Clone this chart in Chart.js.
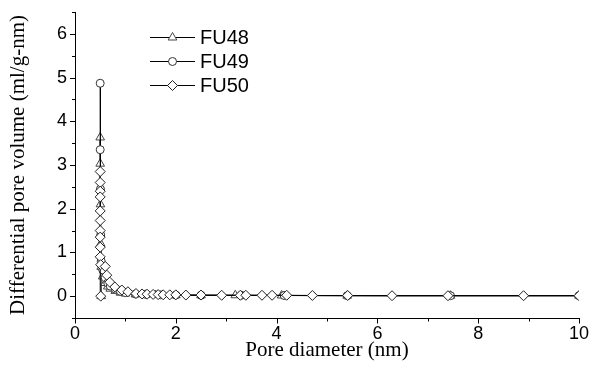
<!DOCTYPE html>
<html>
<head>
<meta charset="utf-8">
<script src="https://cdn.jsdelivr.net/npm/chart.js@4"></script>
<style>
  html, body { margin: 0; padding: 0; background: #fff; }
  #wrap { width: 598px; height: 377px; position: relative; }
</style>
</head>
<body>
<div id="wrap"><canvas id="c" width="598" height="377"></canvas></div>
<script>
// ---- data ----
const seriesNames = ["FU48", "FU49", "FU50"];

const fu48X = [0.52, 0.50, 0.50, 0.505, 0.51, 0.52, 0.55, 0.60, 0.65, 0.70, 0.80, 0.90, 1.00, 1.20, 1.40, 1.60, 2.00, 2.50, 3.18, 4.10, 5.40, 7.45, 10.0];
const fu48Y = [0.00, 3.63, 3.03, 2.10, 1.20, 0.67, 0.45, 0.30, 0.22, 0.17, 0.12, 0.08, 0.06, 0.04, 0.03, 0.025, 0.02, 0.02, 0.02, 0.015, 0.01, 0.01, 0.01];

const fu49X = [0.50, 0.50, 0.505, 0.51, 0.52, 0.55, 0.60, 0.65, 0.70, 0.80, 0.90, 1.00, 1.20, 1.40, 1.70, 2.00, 2.50, 3.30, 4.15, 5.40, 7.45, 10.0];
const fu49Y = [4.87, 3.35, 2.45, 1.40, 0.80, 0.60, 0.42, 0.30, 0.23, 0.16, 0.11, 0.08, 0.05, 0.04, 0.03, 0.025, 0.02, 0.02, 0.015, 0.01, 0.01, 0.01];

const fu50X = [0.51, 0.50, 0.50, 0.50, 0.50, 0.50, 0.50, 0.50, 0.50, 0.50, 0.50, 0.51, 0.60, 0.63, 0.69, 0.79, 0.93, 1.05, 1.21, 1.33, 1.43, 1.55, 1.65, 1.75, 1.88, 2.00, 2.20, 2.50, 2.91, 3.28, 3.39, 3.71, 3.91, 4.20, 4.71, 5.41, 6.29, 7.40, 8.90, 10.0];
const fu50Y = [0.00, 2.85, 2.60, 2.40, 2.27, 1.95, 1.73, 1.50, 1.35, 1.12, 0.90, 0.72, 0.68, 0.48, 0.32, 0.21, 0.14, 0.10, 0.06, 0.05, 0.045, 0.04, 0.035, 0.03, 0.03, 0.03, 0.025, 0.025, 0.02, 0.02, 0.02, 0.02, 0.02, 0.02, 0.015, 0.015, 0.01, 0.01, 0.01, 0.01];

const xTickLabels = ["0", "2", "4", "6", "8", "10"];
const yTickLabels = ["0", "1", "2", "3", "4", "5", "6"];

const toPts = (xs, ys) => xs.map((x, i) => ({ x: x, y: ys[i] }));

// ---- custom axis ticks (major/minor, outward) and legend ----
const decor = {
  id: 'decor',
  afterDraw(chart) {
    const ctx = chart.ctx;
    const xs = chart.scales.x, ys = chart.scales.y;
    const ca = chart.chartArea;
    ctx.save();
    ctx.strokeStyle = '#000';
    ctx.lineWidth = 1;
    // axis lines
    ctx.beginPath();
    ctx.moveTo(Math.round(ca.left) + 0.5, ca.top);
    ctx.lineTo(Math.round(ca.left) + 0.5, Math.round(ca.bottom) + 0.5);
    ctx.lineTo(ca.right, Math.round(ca.bottom) + 0.5);
    ctx.stroke();
    // x ticks
    for (let v = 0; v <= 10; v += 1) {
      const px = Math.round(xs.getPixelForValue(v)) + 0.5;
      const len = (v % 2 === 0) ? 5 : 3;
      ctx.beginPath();
      ctx.moveTo(px, Math.round(ca.bottom));
      ctx.lineTo(px, Math.round(ca.bottom) + len + 0.5);
      ctx.stroke();
    }
    // y ticks
    for (let v = -0.5; v <= 6.5001; v += 0.5) {
      const py = Math.round(ys.getPixelForValue(v)) + 0.5;
      const major = Math.abs(v - Math.round(v)) < 1e-6;
      const len = major ? 5 : 3;
      ctx.beginPath();
      ctx.moveTo(Math.round(ca.left) + 0.5, py);
      ctx.lineTo(Math.round(ca.left) - len, py);
      ctx.stroke();
    }
    // legend
    const metas = chart.data.datasets;
    const lx0 = 150, lx1 = 195, tx = 200;
    const rows = [37, 61, 85];
    ctx.font = '20px "Liberation Sans", Arial, sans-serif';
    ctx.textBaseline = 'middle';
    ctx.textAlign = 'left';
    metas.forEach((ds, i) => {
      const y = rows[i] + 0.5;
      ctx.strokeStyle = '#000';
      ctx.lineWidth = 1;
      ctx.beginPath();
      ctx.moveTo(lx0, y);
      ctx.lineTo(lx1, y);
      ctx.stroke();
      ctx.fillStyle = '#fff';
      ctx.strokeStyle = ds.pointBorderColor;
      Chart.helpers.drawPoint(ctx, {
        pointStyle: ds.pointStyle, radius: ds.pointRadius, borderWidth: 1, rotation: 0
      }, (lx0 + lx1) / 2, y);
      ctx.fillStyle = '#000';
      ctx.fillText(ds.label, tx, rows[i] + 1);
    });
    ctx.restore();
  }
};

const common = {
  showLine: true,
  borderColor: '#000',
  borderWidth: 1,
  pointBackgroundColor: '#fff',
  pointBorderWidth: 1,
  tension: 0
};

new Chart(document.getElementById('c'), {
  type: 'scatter',
  data: {
    datasets: [
      Object.assign({}, common, { label: seriesNames[0], data: toPts(fu48X, fu48Y), pointStyle: 'triangle', pointRadius: 5, pointBorderColor: '#444', order: 2 }),
      Object.assign({}, common, { label: seriesNames[1], data: toPts(fu49X, fu49Y), pointStyle: 'circle', pointRadius: 4, pointBorderColor: '#333', order: 1 }),
      Object.assign({}, common, { label: seriesNames[2], data: toPts(fu50X, fu50Y), pointStyle: 'rectRot', pointRadius: 5, pointBorderColor: '#222', order: 0 })
    ]
  },
  options: {
    responsive: false,
    animation: false,
    events: [],
    layout: { padding: { top: 12, right: 19, left: 0, bottom: 0 } },
    plugins: { legend: { display: false }, tooltip: { enabled: false } },
    scales: {
      x: {
        type: 'linear', min: 0, max: 10,
        afterFit: s => { s.height = 59; s.paddingLeft = 0; s.paddingRight = 0; },
        border: { display: false },
        grid: { display: false, drawTicks: false },
        ticks: {
          stepSize: 2, padding: 5, color: '#000', maxRotation: 0,
          font: { family: '"Liberation Sans", Arial, sans-serif', size: 18 },
          callback: (v) => xTickLabels[v / 2]
        },
        title: {
          display: true, text: 'Pore diameter (nm)', color: '#000',
          font: { family: '"Liberation Serif", "Times New Roman", serif', size: 21 },
          padding: { top: 0, bottom: 14 }
        }
      },
      y: {
        type: 'linear', min: -0.5, max: 6.5,
        afterFit: s => { s.width = 75; s.paddingTop = 0; s.paddingBottom = 0; },
        afterBuildTicks: s => { s.ticks = yTickLabels.map(t => ({ value: Number(t) })); },
        border: { display: false },
        grid: { display: false, drawTicks: false },
        ticks: {
          padding: 8, color: '#000',
          font: { family: '"Liberation Sans", Arial, sans-serif', size: 18 },
          callback: (v) => String(v)
        },
        title: {
          display: true, text: 'Differential pore volume (ml/g-nm)', color: '#000',
          font: { family: '"Liberation Serif", "Times New Roman", serif', size: 21 },
          padding: { top: 6, bottom: 0 }
        }
      }
    }
  },
  plugins: [decor]
});
</script>
</body>
</html>
